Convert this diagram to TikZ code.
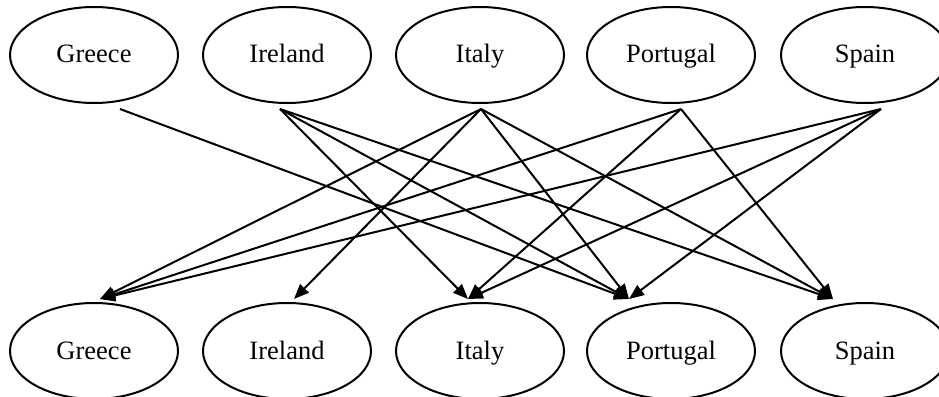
\documentclass[tikz,border=0pt]{standalone}
\usepackage{fontspec}
\setmainfont{Liberation Serif}
\usetikzlibrary{shapes.geometric,arrows.meta,calc}
\tikzset{
  country/.style={draw, ellipse, line width=2pt, minimum width=168pt, minimum height=96pt, inner sep=0pt, text height=20pt, text depth=4pt, font=\fontsize{26.5}{31}\selectfont},
  edge/.style={line width=2pt, -{Triangle[length=15pt,width=12pt]}}
}
\begin{document}
\begin{tikzpicture}[x=1pt,y=-1pt]
\useasboundingbox (0,0) rectangle (939,396);
% top row
\node[country] (gT) at (94,55) {Greece};
\node[country] (iT) at (287,55) {Ireland};
\node[country] (tT) at (480,55) {Italy};
\node[country] (pT) at (671,55) {Portugal};
\node[country] (sT) at (865,55) {Spain};
% bottom row
\node[country] (gB) at (94,351) {Greece};
\node[country] (iB) at (287,351) {Ireland};
\node[country] (tB) at (480,351) {Italy};
\node[country] (pB) at (671,351) {Portugal};
\node[country] (sB) at (865,351) {Spain};
% outlets
\coordinate (gO) at ($(gT.south)+(26,5)$);
\coordinate (iO) at ($(iT.south)+(-7,5)$);
\coordinate (tO) at ($(tT.south)+(1,5)$);
\coordinate (pO) at ($(pT.south)+(10,5)$);
\coordinate (sO) at ($(sT.south)+(16,5)$);
% inlets
\coordinate (gI) at ($(gB.north)+(6,-3)$);
\coordinate (iI) at ($(iB.north)+(7,-3)$);
\coordinate (tI) at ($(tB.north)+(-12,-3)$);
\coordinate (pI) at ($(pB.north)+(-42,-3)$);
\coordinate (sI) at ($(sB.north)+(-32,-3)$);
% edges
\draw[edge] (gO) -- (pI);
\draw[edge] (iO) -- (tI);
\draw[edge] (iO) -- (pI);
\draw[edge] (iO) -- (sI);
\draw[edge] (tO) -- (gI);
\draw[edge] (tO) -- (iI);
\draw[edge] (tO) -- (pI);
\draw[edge] (tO) -- (sI);
\draw[edge] (pO) -- (gI);
\draw[edge] (pO) -- (tI);
\draw[edge] (pO) -- (sI);
\draw[edge] (sO) -- (gI);
\draw[edge] (sO) -- (tI);
\draw[edge] (sO) -- (pI);
\end{tikzpicture}
\end{document}
